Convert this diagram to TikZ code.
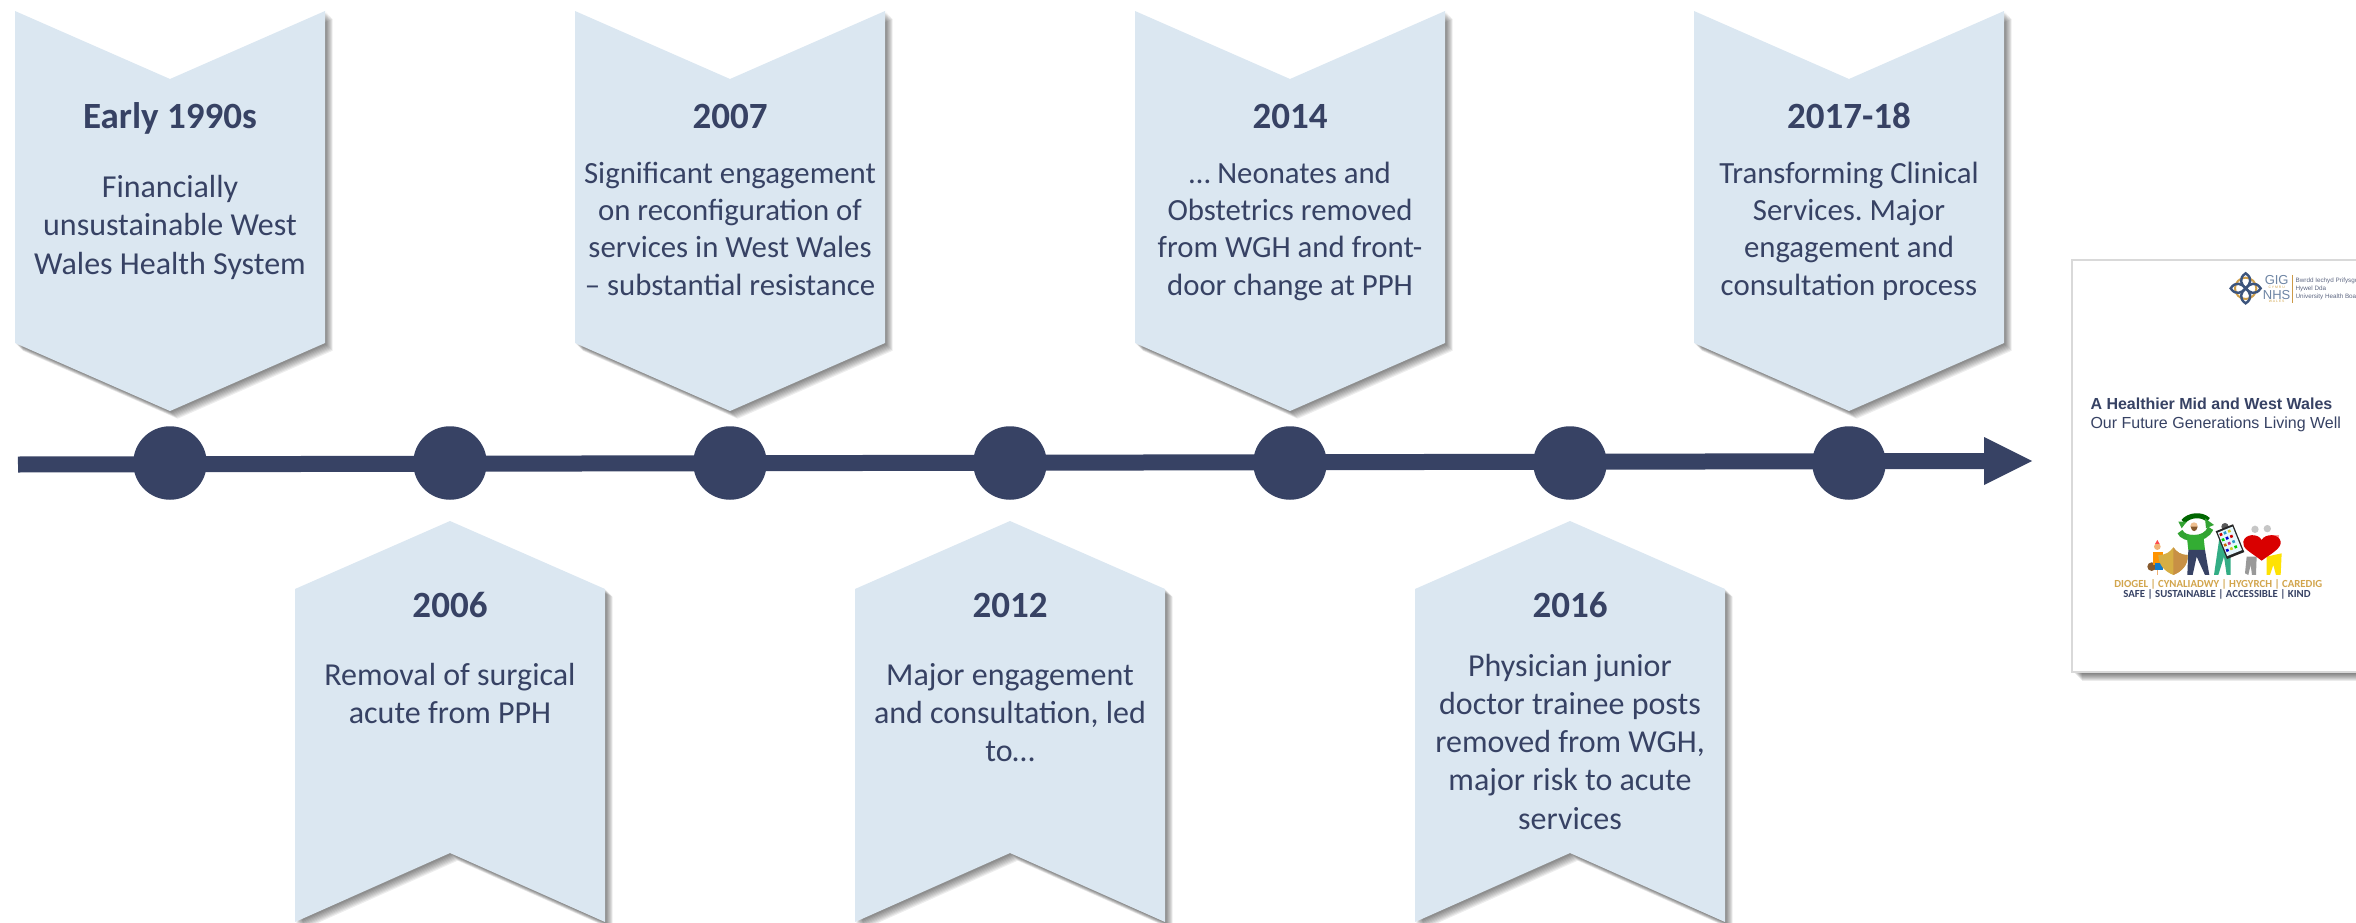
\documentclass[tikz,border=0pt]{standalone}
\usepackage{fontspec}
\setmainfont{Carlito}
\newfontfamily\arialfont{Liberation Sans}
\frenchspacing
\definecolor{navy}{HTML}{374264}
\definecolor{pale}{HTML}{DBE7F1}
\definecolor{pagegrey}{HTML}{D9D9D9}
\definecolor{gold}{HTML}{D2A54C}
\definecolor{nhsblue}{HTML}{3E5C86}
\newcommand{\softshadow}[1]{%
  \foreach \d in {1,2,...,8}{\fill[black,opacity=0.07,shift={(\d*0.9+0.5,\d*0.9+0.5)}] #1;}%
}
\newcommand{\downbanner}[1]{\softshadow{(#1-155,11)--(#1,79)--(#1+155,11)--(#1+155,343)--(#1,411)--(#1-155,343)--cycle}
  \fill[pale] (#1-155,11)--(#1,79)--(#1+155,11)--(#1+155,343)--(#1,411)--(#1-155,343)--cycle;}
\newcommand{\upbanner}[1]{\softshadow{(#1-155,589)--(#1,521)--(#1+155,589)--(#1+155,922)--(#1,853)--(#1-155,922)--cycle}
  \fill[pale] (#1-155,589)--(#1,521)--(#1+155,589)--(#1+155,922)--(#1,853)--(#1-155,922)--cycle;}
\tikzset{
  every node/.style={inner sep=0pt,outer sep=0pt},
  yeartext/.style={text=navy,anchor=base,font=\fontsize{37}{38}\selectfont\bfseries},
  bodytext/.style={text=navy,anchor=base,align=center,font=\fontsize{32}{38.3}\selectfont},
  bodytight/.style={text=navy,anchor=base,align=center,font=\fontsize{30.8}{37.2}\selectfont},
  dotnode/.style={circle,fill=navy,minimum size=73.5pt},
  axisline/.style={draw=navy,line width=16pt},
  pagetitle/.style={text=navy,anchor=base west,font=\arialfont\fontsize{16}{18}\selectfont\bfseries},
  pagesub/.style={text=navy,anchor=base west,font=\arialfont\fontsize{16}{18}\selectfont},
  smallprint/.style={text=navy!80,anchor=base west,font=\arialfont\fontsize{6.3}{7}\selectfont},
}
\begin{document}
\begin{tikzpicture}[x=1pt,y=-1pt]
\useasboundingbox (0,0) rectangle (2356,923);
\clip (0,0) rectangle (2356,923);
\downbanner{170}\downbanner{730}\downbanner{1290}\downbanner{1849}
\upbanner{450}\upbanner{1010}\upbanner{1570}
% axis
\coordinate (axisstart) at (18,464.5);
\coordinate (axisend) at (1984,461);
\coordinate (tipA) at (1984,437);
\coordinate (tipB) at (2032,461);
\coordinate (tipC) at (1984,485);
\draw[axisline] (axisstart) -- (axisend);
\fill[navy] (tipA) -- (tipB) -- (tipC) -- cycle;
\foreach \n/\x in {a/170,b/450,c/730,d/1010,e/1290,f/1570,g/1849}
  \node[dotnode] (dot\n) at (\x,463) {};
% top labels
\node[yeartext] (y1) at (170,129) {Early 1990s};
\node[bodytext] (t1) at (170,274) {Financially\\unsustainable West\\Wales Health System};
\node[yeartext] (y3) at (730,129) {2007};
\node[bodytight] (t3) at (730,295) {Significant engagement\\on reconfiguration of\\services in West Wales\\– substantial resistance};
\node[yeartext] (y5) at (1290,129) {2014};
\node[bodytight] (t5) at (1290,295) {… Neonates and\\Obstetrics removed\\from WGH and front-\\door change at PPH};
\node[yeartext] (y7) at (1849,129) {2017-18};
\node[bodytight] (t7) at (1849,295) {Transforming Clinical\\Services. Major\\engagement and\\consultation process};
% bottom labels
\node[yeartext] (y2) at (450,617.5) {2006};
\node[bodytext] (t2) at (450,723.3) {Removal of surgical\\acute from PPH};
\node[yeartext] (y4) at (1010,617.5) {2012};
\node[bodytext] (t4) at (1010,761.6) {Major engagement\\and consultation, led\\to…};
\node[yeartext] (y6) at (1570,617.5) {2016};
\node[bodytext] (t6) at (1570,829.2) {Physician junior\\doctor trainee posts\\removed from WGH,\\major risk to acute\\services};
% document page
\foreach \d in {1,...,8}{\fill[black,opacity=0.08] (2074+\d,265+\d) rectangle (2360,673+\d);}
\fill[white,draw=pagegrey,line width=2pt] (2072,260) rectangle (2362,672);
\node[pagetitle] (pt) at (2090.5,409) {A Healthier Mid and West Wales};
\node[pagesub] (ps) at (2090.5,428) {Our Future Generations Living Well};
\begin{scope}[shift={(2040,240)},x=0.3333pt,y=-0.3333pt]
  % logo
  \draw[gold!80!brown,line width=2pt] (617,145) circle (32);
  \foreach \a in {0,90,180,270}
    \draw[nhsblue!70!navy,line width=2.4pt,rotate around={\a:(617,145)}] (617,100) .. controls (640,115) and (630,135) .. (617,145) .. controls (604,135) and (594,115) .. (617,100) -- cycle;
  \draw[gold!70!brown,line width=0.7pt] (757,105) -- (757,190);
  \node[text=nhsblue!75,font=\arialfont\fontsize{13}{14}\selectfont] (gig) at (710,120) {GIG};
  \node[text=nhsblue!75,font=\arialfont\fontsize{13}{14}\selectfont] (nhs) at (710,164) {NHS};
  \node[text=gold,font=\arialfont\fontsize{3.4}{4}\selectfont] (cymru) at (710,142) {C Y M R U};
  \node[text=gold,font=\arialfont\fontsize{3.4}{4}\selectfont] (wales) at (710,184) {W A L E S};
  \node[smallprint] (b1) at (767,127) {Bwrdd Iechyd Prifysgol};
  \node[smallprint] (b2) at (767,151) {Hywel Dda};
  \node[smallprint] (b3) at (767,175) {University Health Board};
  % child and teddy
  \fill[brown!70!black] (335,980) circle (13);
  \fill[orange!85!yellow] (340,935) rectangle (368,975);
  \fill[cyan!60!blue] (345,970) rectangle (368,990);
  \fill[orange!60!brown!60] (352,920) circle (10);
  \fill[red!70] (345,912) -- (352,900) -- (359,912) -- cycle;
  \draw[orange!60!brown!60,line width=1.5pt] (352,990) -- (352,1005);
  % shield
  \fill[gold!90!yellow] (355,945) .. controls (380,945) and (390,935) .. (400,922) .. controls (410,935) and (420,945) .. (443,945) .. controls (445,975) and (425,995) .. (400,1005) .. controls (375,995) and (355,975) .. (355,945) -- cycle;
  \fill[brown!55!gold] (400,922) .. controls (410,935) and (420,945) .. (443,945) .. controls (445,975) and (425,995) .. (400,1005) -- cycle;
  % man with recycling arrows
  \draw[green!40!black,line width=5pt] (430,845) .. controls (445,825) and (485,820) .. (505,840);
  \draw[green!55!black!80,line width=6pt] (420,875) .. controls (430,900) and (495,905) .. (512,865);
  \fill[green!55!black!80] (415,845) -- (440,845) -- (425,865) -- cycle;
  \fill[green!55!black!80] (495,835) -- (522,855) -- (498,865) -- cycle;
  \fill[green!60!black!80] (440,885) -- (490,885) -- (495,930) -- (445,930) -- cycle;
  \fill[navy] (445,930) -- (495,930) -- (508,1005) -- (495,1005) -- (470,950) -- (458,1005) -- (442,1005) -- cycle;
  \fill[orange!50!brown!50] (462,858) circle (11);
  \fill[brown!70!black] (452,860) .. controls (455,878) and (470,878) .. (473,860) -- cycle;
  % nurse and tablet
  \fill[teal!80!green!80] (538,895) -- (572,895) -- (572,1005) -- (560,1005) -- (552,950) -- (535,1005) -- (522,1005) -- cycle;
  \fill[gray!70!black] (555,860) circle (11);
  \begin{scope}[rotate around={22:(570,905)}]
    \fill[black!85] (542,860) rectangle (598,950);
    \fill[white!90!cyan] (546,866) rectangle (594,942);
    \foreach \u/\v/\c in {553/875/red,566/875/cyan,580/875/yellow,553/892/green,566/892/blue,580/892/red,553/909/orange,566/909/magenta,580/909/cyan,553/926/blue,566/926/yellow,580/926/green}
      \fill[\c!80!black] (\u-4,\v-4) rectangle (\u+4,\v+4);
  \end{scope}
  % couple and heart
  \fill[gray!80] (620,950) -- (650,950) -- (648,1005) -- (636,1005) -- (632,975) -- (625,1005) -- (615,1000) -- cycle;
  \fill[yellow!85!orange] (680,950) -- (725,940) -- (722,1005) -- (708,1005) -- (700,975) -- (690,1005) -- (680,1005) -- cycle;
  \fill[pink!80!red] (690,885) rectangle (718,915);
  \fill[gray!45] (645,868) circle (11);
  \fill[gray!45] (682,866) circle (11);
  \fill[red!85!black] (665,962) .. controls (630,935) and (605,925) .. (610,905) .. controls (615,880) and (655,880) .. (665,900) .. controls (675,880) and (718,880) .. (722,905) .. controls (725,925) and (695,940) .. (665,962) -- cycle;
  % captions
  \node[text=gold,font=\fontsize{10.8}{12}\selectfont\bfseries] (caprow1) at (535,1032) {DIOGEL | CYNALIADWY | HYGYRCH | CAREDIG};
  \node[text=navy,font=\fontsize{10.8}{12}\selectfont\bfseries] (caprow2) at (531,1062) {SAFE | SUSTAINABLE | ACCESSIBLE | KIND};
\end{scope}
\end{tikzpicture}
\end{document}
